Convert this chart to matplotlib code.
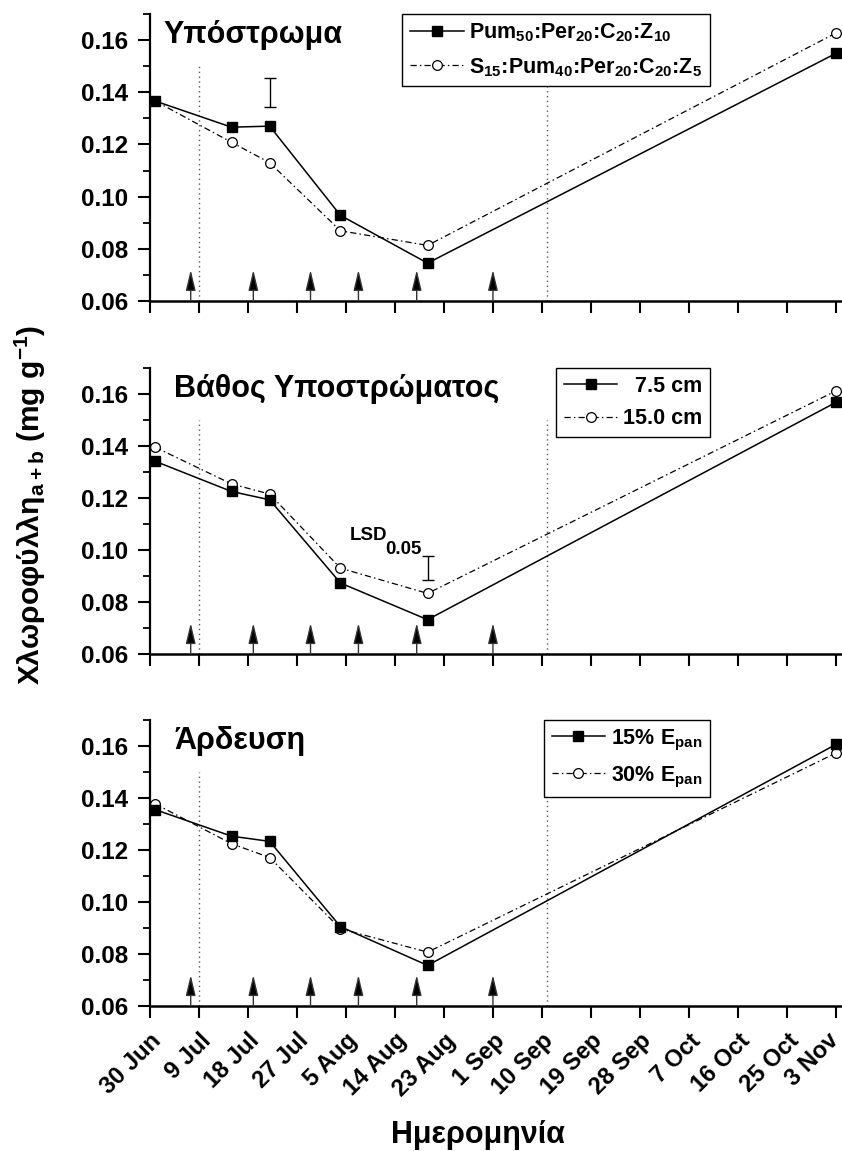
import numpy as np
import matplotlib
matplotlib.use('Agg')
import matplotlib.pyplot as plt
import matplotlib.transforms as mtransforms
from matplotlib.ticker import FormatStrFormatter, MultipleLocator

plt.rcParams['font.family'] = ['Liberation Sans', 'DejaVu Sans']
plt.rcParams['font.weight'] = 'bold'
plt.rcParams['mathtext.default'] = 'regular'

# Sampling days, counted from 30 Jun
days = [1, 15, 22, 35, 51, 126]
tick_labels = ['30 Jun', '9 Jul', '18 Jul', '27 Jul', '5 Aug', '14 Aug', '23 Aug',
               '1 Sep', '10 Sep', '19 Sep', '28 Sep', '7 Oct', '16 Oct', '25 Oct', '3 Nov']

# Chlorophyll a+b (mg g-1) for each factor
substrate_a = [0.1366, 0.1266, 0.1270, 0.0928, 0.0745, 0.1549]
substrate_b = [0.1366, 0.1208, 0.1130, 0.0869, 0.0813, 0.1627]
depth_a = [0.1341, 0.1225, 0.1193, 0.0873, 0.0732, 0.1568]
depth_b = [0.1395, 0.1254, 0.1215, 0.0930, 0.0833, 0.1612]
irrig_a = [0.1355, 0.1253, 0.1233, 0.0905, 0.0756, 0.1606]
irrig_b = [0.1377, 0.1224, 0.1171, 0.0897, 0.0807, 0.1573]

# LSD bars (day, low, high)
lsd_substrate = (22, 0.1343, 0.1453)
lsd_depth = (51, 0.0886, 0.0978)

# event arrows and period limits (days from 30 Jun)
arrow_days = [7.5, 19, 29.5, 38.3, 49, 63]
period_days = [9, 73]

panels = [
    ('Υπόστρωμα', substrate_a, substrate_b,
     'Pum$_{50}$:Per$_{20}$:C$_{20}$:Z$_{10}$',
     'S$_{15}$:Pum$_{40}$:Per$_{20}$:C$_{20}$:Z$_{5}$', lsd_substrate),
    ('Βάθος Υποστρώματος', depth_a, depth_b, '  7.5 cm', '15.0 cm', lsd_depth),
    ('Άρδευση', irrig_a, irrig_b, '15% E$_{pan}$', '30% E$_{pan}$', None),
]

fig = plt.figure(figsize=(8.42, 11.51), dpi=100)
axes_pos = [[0.178, 0.7385, 0.8207, 0.2494],
            [0.178, 0.4318, 0.8207, 0.2485],
            [0.178, 0.1260, 0.8207, 0.2485]]

for i, (title, ya, yb, la, lb, lsd) in enumerate(panels):
    ax = fig.add_axes(axes_pos[i])
    ax.plot(days, ya, color='k', lw=1.1, marker='s', ms=6.5, mfc='k', mec='k',
            label=la, clip_on=False, zorder=4)
    ax.plot(days, yb, color='k', lw=0.9, ls=(0, (5, 2.5, 1.2, 2.5)), marker='o', ms=7,
            mfc='white', mec='k', mew=0.9, label=lb, clip_on=False, zorder=3)

    for d in arrow_days:
        ax.annotate('', xy=(d, 0.0719), xytext=(d, 0.06),
                    arrowprops=dict(arrowstyle='-|>,head_length=1.25,head_width=0.3',
                                    mutation_scale=10, lw=1, ec='#333', fc='k',
                                    shrinkA=0, shrinkB=0))
    ax.vlines(period_days, 0.06, 0.15, colors='#555', linestyles=(0, (1, 2.5)), lw=1)

    if lsd is not None:
        d, lo, hi = lsd
        ax.errorbar([d], [(lo + hi) / 2], yerr=[(hi - lo) / 2], fmt='none', ecolor='k',
                    elinewidth=1, capsize=4, capthick=1)

    ax.set_xlim(0, 126.9)
    ax.set_ylim(0.06, 0.17)
    ax.set_xticks(np.arange(0, 127, 9))
    if i == 2:
        ax.set_xticklabels(tick_labels, rotation=45, ha='right', rotation_mode='anchor')
    else:
        ax.set_xticklabels([])
    ax.yaxis.set_major_locator(MultipleLocator(0.02))
    ax.yaxis.set_minor_locator(MultipleLocator(0.01))
    ax.yaxis.set_major_formatter(FormatStrFormatter('%.2f'))
    ax.tick_params(axis='y', which='major', direction='out', length=8.6, width=1.5,
                   labelsize=17.5, pad=7)
    ax.tick_params(axis='x', which='major', direction='out', length=8.6, width=1.5,
                   labelsize=17, pad=8)
    ax.tick_params(axis='y', which='minor', direction='out', length=5, width=1.3)
    for s in ['top', 'right']:
        ax.spines[s].set_visible(False)
    ax.spines['left'].set_linewidth(1.6)
    ax.spines['bottom'].set_linewidth(1.8)

    ax.text(0.02 if i == 0 else 0.035, 0.98, title, transform=ax.transAxes,
            fontsize=22, ha='left', va='top')

    leg = ax.legend(loc='upper right', bbox_to_anchor=(0.81, 1.0), borderaxespad=0,
                    fontsize=15.5, handlelength=2.5, labelspacing=0.55, fancybox=False,
                    edgecolor='k', framealpha=1, borderpad=0.35, handletextpad=0.25)
    leg.get_frame().set_linewidth(1)
    leg.set_zorder(10)

    if i == 1:
        ax.text(36.7, 0.1038, 'LSD', fontsize=13.5, ha='left', va='baseline')
        ax.text(43.2, 0.0985, '0.05', fontsize=13.5, ha='left', va='baseline')

# keep the last date label inside the figure
last = ax.get_xticklabels()[-1]
last.set_transform(last.get_transform() +
                   mtransforms.ScaledTranslation(-9 / 100, 0, fig.dpi_scale_trans))

fig.text(30 / 842, 1 - 505 / 1151, 'Χλωροφύλλη$_{a+b}$ (mg g$^{-1}$)', rotation=90,
         fontsize=21.5, ha='center', va='center')
fig.text(478 / 842, 1 - 1135 / 1151, 'Ημερομηνία', fontsize=22, ha='center', va='center')

fig.savefig('out.png', dpi=100)
